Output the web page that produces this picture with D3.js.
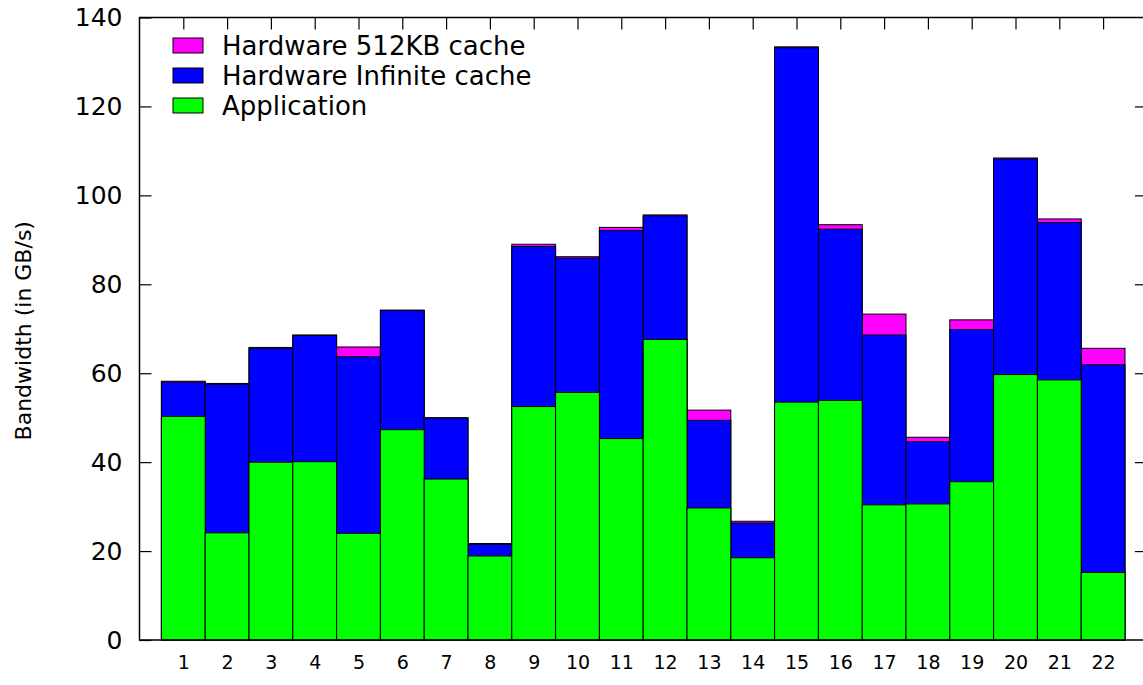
<!DOCTYPE html>
<html><head><meta charset="utf-8">
<script src="https://cdn.jsdelivr.net/npm/d3@7"></script>
<style>body{margin:0;background:#fff;} svg{display:block;}</style>
</head><body>
<svg id="chart" width="1143" height="685"></svg>
<script>
const categories = ["1","2","3","4","5","6","7","8","9","10","11","12","13","14","15","16","17","18","19","20","21","22"];
const hw512 = [58.2,57.7,65.8,68.6,65.9,74.2,50.0,21.7,89.0,86.2,92.8,95.6,51.7,26.7,133.4,93.4,73.3,45.6,72.0,108.4,94.7,65.6];
const hwInf = [58.0,57.5,65.6,68.5,63.7,74.1,49.9,21.5,88.5,85.9,92.1,95.4,49.4,26.3,133.2,92.4,68.6,44.6,69.8,108.2,93.9,61.9];
const application = [50.3,24.1,40.0,40.1,24.0,47.3,36.2,18.9,52.5,55.7,45.3,67.6,29.7,18.5,53.5,53.9,30.4,30.6,35.6,59.7,58.5,15.2];
const yTicks = [0,20,40,60,80,100,120,140];
const seriesNames = ["Hardware 512KB cache","Hardware Infinite cache","Application"];
const seriesColors = ["#ff00ff","#0000ff","#00ff00"];

const svg = d3.select("#chart");
const L = 139.5, R = 1146.9, T = 17.5, B = 640;
const x = d3.scaleLinear().domain([0, 23]).range([L, R]);
const y = d3.scaleLinear().domain([0, 140]).range([B, T]);
const font = "DejaVu Sans, sans-serif";

const series = [hw512, hwInf, application];
series.forEach((vals, si) => {
  svg.append("g").selectAll("rect").data(vals).join("rect")
    .attr("x", (d, i) => x(i + 0.5))
    .attr("width", x(1) - x(0))
    .attr("y", d => y(d))
    .attr("height", d => y(0) - y(d))
    .attr("fill", seriesColors[si])
    .attr("stroke", "#000")
    .attr("stroke-width", 1);
});

// frame
svg.append("rect").attr("x", L).attr("y", T).attr("width", R - L).attr("height", B - T)
  .attr("fill", "none").attr("stroke", "#000").attr("stroke-width", 1.5);

// y ticks (left and right, inward)
const tl = 12;
const yAxisL = d3.axisLeft(y).tickValues(yTicks).tickSize(-tl).tickPadding(17).tickFormat(d3.format("d"));
const gl = svg.append("g").attr("transform", `translate(${L},0)`).call(yAxisL);
gl.select(".domain").remove();
gl.selectAll("line").attr("stroke", "#000").attr("stroke-width", 1.2);
gl.selectAll("text").attr("font-family", font).attr("font-size", 25).attr("fill", "#000");

const yAxisR = d3.axisRight(y).tickValues(yTicks.slice(1, -1)).tickSize(-tl).tickFormat("");
const gr = svg.append("g").attr("transform", `translate(${R},0)`).call(yAxisR);
gr.select(".domain").remove();
gr.selectAll("line").attr("stroke", "#000").attr("stroke-width", 1.2);

// x ticks top (inward) and bottom labels
const xTop = d3.axisTop(x).tickValues(d3.range(1, categories.length + 1)).tickSize(-tl).tickFormat("");
const gt = svg.append("g").attr("transform", `translate(0,${T})`).call(xTop);
gt.select(".domain").remove();
gt.selectAll("line").attr("stroke", "#000").attr("stroke-width", 1.2);

const xBot = d3.axisBottom(x).tickValues(d3.range(1, categories.length + 1)).tickSize(0).tickPadding(16)
  .tickFormat(d => categories[d - 1]);
const gb = svg.append("g").attr("transform", `translate(0,${B})`).call(xBot);
gb.select(".domain").remove();
gb.selectAll("text").attr("font-family", font)
  .attr("font-size", 19).attr("fill", "#000");

// y title
svg.append("text").attr("transform", `translate(31,${(T + B) / 2 + 2}) rotate(-90)`)
  .attr("text-anchor", "middle").attr("font-family", font).attr("font-size", 22)
  .text("Bandwidth (in GB/s)");

// legend
const leg = svg.append("g");
seriesNames.forEach((name, i) => {
  const base = 55 + i * 30;
  leg.append("rect").attr("x", 173).attr("y", base - 17).attr("width", 30).attr("height", 15)
    .attr("fill", seriesColors[i]).attr("stroke", "#000").attr("stroke-width", 1);
  leg.append("text").attr("x", 222).attr("y", base).attr("font-family", font)
    .attr("font-size", 26).text(name);
});
</script>
</body></html>
